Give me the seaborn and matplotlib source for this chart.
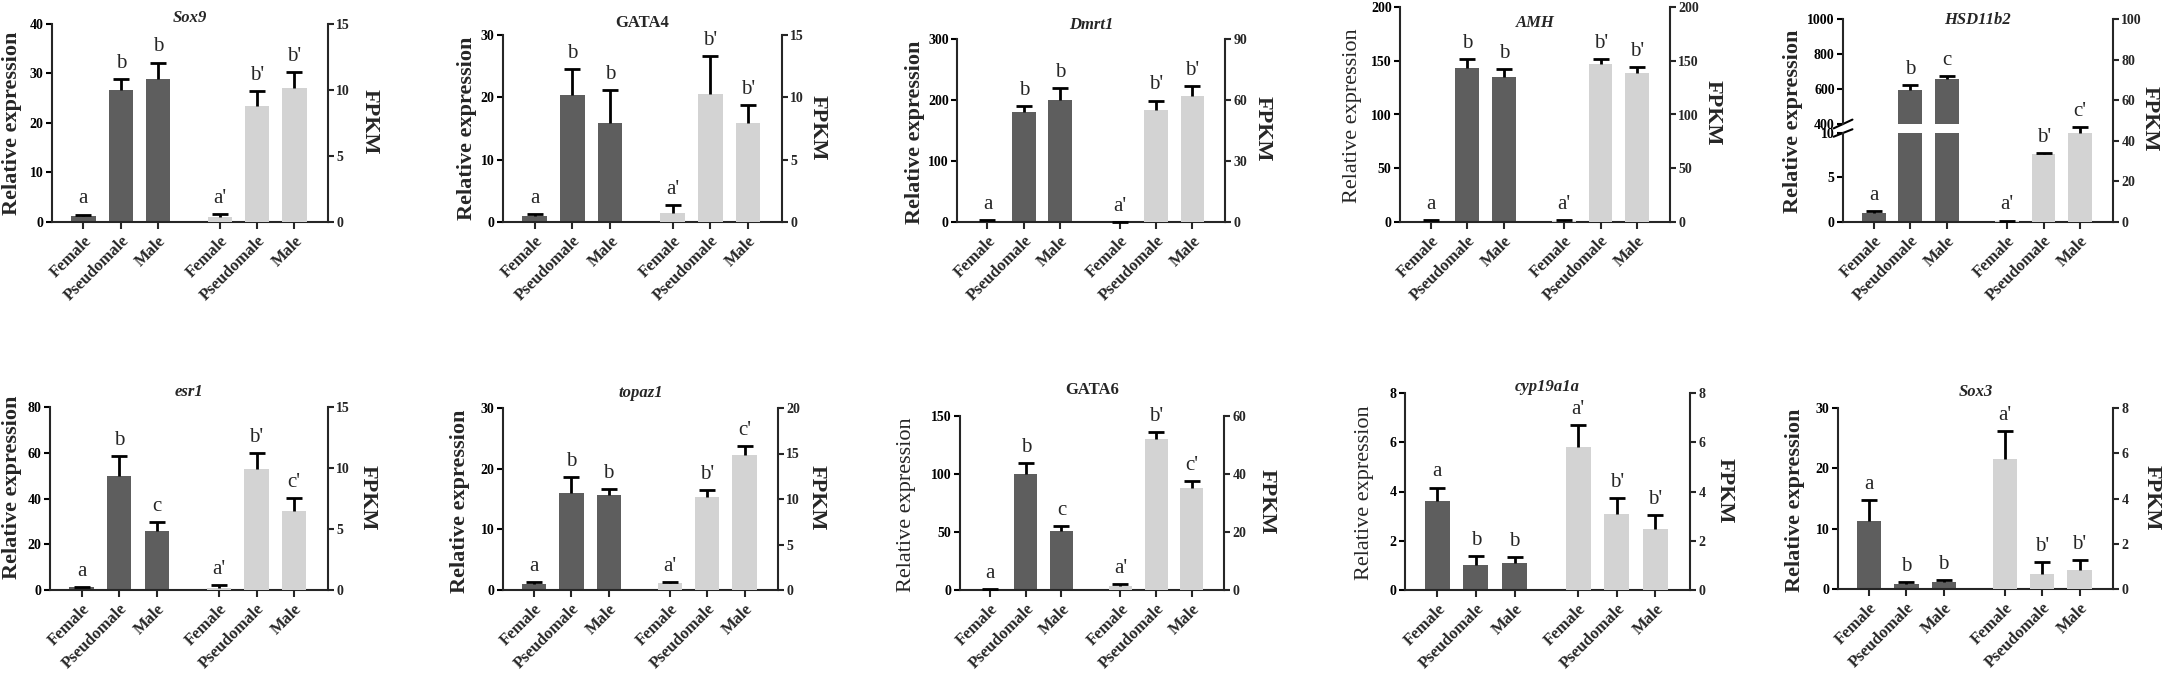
import numpy as np
import pandas as pd
import matplotlib
matplotlib.use("Agg")
import matplotlib.pyplot as plt
import seaborn as sns

# ---------------- data ----------------
groups = ["Female", "Pseudomale", "Male"]
genes = ["Sox9", "GATA4", "Dmrt1", "AMH", "HSD11b2",
         "esr1", "topaz1", "GATA6", "cyp19a1a", "Sox3"]

sox9_rel = [1.15, 26.7, 28.9]
sox9_rel_err = [0.35, 2.2, 3.3]
sox9_fpkm = [0.35, 8.8, 10.15]
sox9_fpkm_err = [0.28, 1.1, 1.18]

gata4_rel = [0.96, 20.35, 15.9]
gata4_rel_err = [0.33, 4.15, 5.3]
gata4_fpkm = [0.72, 10.3, 7.95]
gata4_fpkm_err = [0.62, 3.0, 1.45]

dmrt1_rel = [2.2, 181, 200]
dmrt1_rel_err = [0.5, 9, 20]
dmrt1_fpkm = [0.1, 55, 62]
dmrt1_fpkm_err = [0.0, 4.7, 4.8]

amh_rel = [1.2, 143.4, 135]
amh_rel_err = [0.4, 8.1, 7.5]
amh_fpkm = [1.2, 146.8, 138.7]
amh_fpkm_err = [0.7, 4.7, 5.3]

hsd_rel = [1.05, 594, 657]
hsd_rel_err = [0.19, 31, 19]
hsd_fpkm = [0.5, 33.4, 43.9]
hsd_fpkm_err = [0.2, 0.7, 3.0]

esr1_rel = [1.16, 50.0, 25.9]
esr1_rel_err = [0.3, 8.6, 3.8]
esr1_fpkm = [0.19, 9.95, 6.46]
esr1_fpkm_err = [0.25, 1.25, 1.1]

topaz1_rel = [0.99, 16.07, 15.63]
topaz1_rel_err = [0.28, 2.48, 1.0]
topaz1_fpkm = [0.73, 10.2, 14.83]
topaz1_fpkm_err = [0.19, 0.74, 0.95]

gata6_rel = [0.86, 100, 50.6]
gata6_rel_err = [0.3, 9.2, 4.9]
gata6_fpkm = [1.5, 52, 35.1]
gata6_fpkm_err = [0.45, 2.6, 2.5]

cyp_rel = [3.61, 1.02, 1.11]
cyp_rel_err = [0.55, 0.36, 0.21]
cyp_fpkm = [5.8, 3.09, 2.47]
cyp_fpkm_err = [0.9, 0.63, 0.57]

sox3_rel = [11.33, 0.88, 1.1]
sox3_rel_err = [3.47, 0.34, 0.45]
sox3_fpkm = [5.74, 0.68, 0.82]
sox3_fpkm_err = [1.23, 0.5, 0.46]

letters_rel = {
    "Sox9": ["a", "b", "b"], "GATA4": ["a", "b", "b"], "Dmrt1": ["a", "b", "b"],
    "AMH": ["a", "b", "b"], "HSD11b2": ["a", "b", "c"], "esr1": ["a", "b", "c"],
    "topaz1": ["a", "b", "b"], "GATA6": ["a", "b", "c"], "cyp19a1a": ["a", "b", "b"],
    "Sox3": ["a", "b", "b"],
}
letters_fpkm = {
    "Sox9": ["a'", "b'", "b'"], "GATA4": ["a'", "b'", "b'"], "Dmrt1": ["a'", "b'", "b'"],
    "AMH": ["a'", "b'", "b'"], "HSD11b2": ["a'", "b'", "c'"], "esr1": ["a'", "b'", "c'"],
    "topaz1": ["a'", "b'", "c'"], "GATA6": ["a'", "b'", "c'"], "cyp19a1a": ["a'", "b'", "b'"],
    "Sox3": ["a'", "b'", "b'"],
}
left_ticks = {
    "Sox9": [0, 10, 20, 30, 40], "GATA4": [0, 10, 20, 30], "Dmrt1": [0, 100, 200, 300],
    "AMH": [0, 50, 100, 150, 200], "esr1": [0, 20, 40, 60, 80], "topaz1": [0, 10, 20, 30],
    "GATA6": [0, 50, 100, 150], "cyp19a1a": [0, 2, 4, 6, 8], "Sox3": [0, 10, 20, 30],
}
hsd_low_ticks = [0, 5, 10]
hsd_up_ticks = [400, 600, 800, 1000]
right_ticks = {
    "Sox9": [0, 5, 10, 15], "GATA4": [0, 5, 10, 15], "Dmrt1": [0, 30, 60, 90],
    "AMH": [0, 50, 100, 150, 200], "HSD11b2": [0, 20, 40, 60, 80, 100],
    "esr1": [0, 5, 10, 15], "topaz1": [0, 5, 10, 15, 20], "GATA6": [0, 20, 40, 60],
    "cyp19a1a": [0, 2, 4, 6, 8], "Sox3": [0, 2, 4, 6, 8],
}

data = {
    "Sox9": (sox9_rel, sox9_rel_err, sox9_fpkm, sox9_fpkm_err),
    "GATA4": (gata4_rel, gata4_rel_err, gata4_fpkm, gata4_fpkm_err),
    "Dmrt1": (dmrt1_rel, dmrt1_rel_err, dmrt1_fpkm, dmrt1_fpkm_err),
    "AMH": (amh_rel, amh_rel_err, amh_fpkm, amh_fpkm_err),
    "HSD11b2": (hsd_rel, hsd_rel_err, hsd_fpkm, hsd_fpkm_err),
    "esr1": (esr1_rel, esr1_rel_err, esr1_fpkm, esr1_fpkm_err),
    "topaz1": (topaz1_rel, topaz1_rel_err, topaz1_fpkm, topaz1_fpkm_err),
    "GATA6": (gata6_rel, gata6_rel_err, gata6_fpkm, gata6_fpkm_err),
    "cyp19a1a": (cyp_rel, cyp_rel_err, cyp_fpkm, cyp_fpkm_err),
    "Sox3": (sox3_rel, sox3_rel_err, sox3_fpkm, sox3_fpkm_err),
}

# ---------------- layout / style ----------------
W, H = 2164, 679
DARK = "#5e5e5e"
LIGHT = "#d3d3d3"

# axes rect in pixels: left, top, right, bottom
rects = {
    "Sox9": (52, 24, 328, 222), "GATA4": (503, 35, 782, 222),
    "Dmrt1": (957, 39, 1225, 222), "AMH": (1400, 7, 1670, 222),
    "HSD11b2": (1843, 19, 2113, 222),
    "esr1": (50, 407, 328, 590), "topaz1": (503, 408, 778, 590),
    "GATA6": (960, 416, 1224, 590), "cyp19a1a": (1405, 393, 1690, 590),
    "Sox3": (1838, 408, 2113, 589),
}
title_y = {"Sox9": 18, "GATA4": 23, "Dmrt1": 25, "AMH": 23, "HSD11b2": 20,
           "esr1": 392, "topaz1": 393, "GATA6": 390, "cyp19a1a": 387, "Sox3": 392}
italic = {"GATA4": False, "GATA6": False}
ylab_pos = {"Sox9": (12, 123), "GATA4": (467, 128), "Dmrt1": (915, 132),
            "AMH": (1353, 116), "HSD11b2": (1793, 121), "esr1": (12, 487),
            "topaz1": (460, 501), "GATA6": (907, 505), "cyp19a1a": (1365, 493),
            "Sox3": (1795, 500)}
ylab_bold = {"AMH": False, "GATA6": False, "cyp19a1a": False}
fpkm_pos = {"Sox9": (370, 122), "GATA4": (818, 128), "Dmrt1": (1263, 129),
            "AMH": (1713, 113), "HSD11b2": (2150, 119), "esr1": (368, 498),
            "topaz1": (817, 498), "GATA6": (1267, 502), "cyp19a1a": (1725, 491),
            "Sox3": (2152, 498)}

sns.set_theme(style="ticks")
plt.rcParams["font.family"] = ["Liberation Serif", "DejaVu Serif"]
plt.rcParams["font.weight"] = "bold"
plt.rcParams["axes.linewidth"] = 1.5

GAP = 3.65
pos_dark = np.arange(len(groups), dtype=float)
pos_light = pos_dark + GAP
XLIM = (-0.84, pos_light[-1] + 0.9)

fig = plt.figure(figsize=(W / 100, H / 100), dpi=100)


def frect(l, t, r, b):
    return [l / W, 1 - b / H, (r - l) / W, (b - t) / H]


def draw_bars(ax, pos, vals, color):
    df = pd.DataFrame({"pos": pos, "val": vals})
    sns.barplot(data=df, x="pos", y="val", native_scale=True, orient="x",
                width=0.65, color=color, saturation=1, errorbar=None,
                linewidth=0, ax=ax)
    ax.set_xlabel("")
    ax.set_ylabel("")


def draw_err(ax, pos, vals, err, letters=None):
    vals = np.asarray(vals, float)
    err = np.asarray(err, float)
    eb = ax.errorbar(pos, vals, yerr=[np.zeros_like(err), err], fmt="none",
                     ecolor="black", elinewidth=2, capsize=5.5, capthick=2,
                     zorder=3, clip_on=False)
    eb[1][0].set_visible(False)
    if letters is not None:
        for p, v, e, l in zip(pos, vals, err, letters):
            ax.annotate(l, (p, v + e), xytext=(0, 8), textcoords="offset points",
                        ha="center", va="baseline", fontsize=15,
                        fontweight="normal", annotation_clip=False)


def style_left(ax, ticks, bottom=True):
    ax.spines["top"].set_visible(False)
    ax.spines["right"].set_visible(False)
    ax.set_yticks(ticks)
    ax.tick_params(axis="y", direction="out", length=4, width=1.5,
                   labelsize=10, pad=2, colors="black")
    if bottom:
        ax.set_xticks(np.concatenate([pos_dark, pos_light]))
        ax.set_xticklabels(groups * 2, rotation=45, ha="right",
                           rotation_mode="anchor", fontsize=12,
                           fontweight="bold")
        ax.tick_params(axis="x", direction="out", length=5, width=1.5, pad=3)
    ax.set_xlim(*XLIM)
    ax.set_facecolor("none")


def style_right(ax2, ticks):
    for s in ["top", "left", "bottom"]:
        ax2.spines[s].set_visible(False)
    ax2.spines["right"].set_visible(True)
    ax2.yaxis.tick_right()
    ax2.set_yticks(ticks)
    ax2.set_ylim(ticks[0], ticks[-1])
    ax2.tick_params(axis="y", direction="out", length=4, width=1.5,
                    labelsize=10, pad=2)
    ax2.set_xlim(*XLIM)
    ax2.set_facecolor("none")


def labels(g):
    l, t, r, b = rects[g]
    fig.text(((l + r) / 2) / W, 1 - title_y[g] / H, g, ha="center", va="center",
             fontsize=12, fontweight="bold",
             fontstyle="italic" if italic.get(g, True) else "normal")
    x, y = ylab_pos[g]
    fig.text(x / W, 1 - y / H, "Relative expression", rotation=90,
             ha="center", va="center", fontsize=16,
             fontweight="bold" if ylab_bold.get(g, True) else "normal")
    x, y = fpkm_pos[g]
    fig.text(x / W, 1 - y / H, "FPKM", rotation=270, ha="center", va="center",
             fontsize=16, fontweight="bold")


for g in genes:
    rel, rel_err, fpkm, fpkm_err = data[g]
    l, t, r, b = rects[g]
    if g != "HSD11b2":
        ax = fig.add_axes(frect(l, t, r, b))
        draw_bars(ax, pos_dark, rel, DARK)
        ax2 = ax.twinx()
        draw_bars(ax2, pos_light, fpkm, LIGHT)
        draw_err(ax, pos_dark, rel, rel_err, letters_rel[g])
        draw_err(ax2, pos_light, fpkm, fpkm_err, letters_fpkm[g])
        lt = left_ticks[g]
        ax.set_ylim(lt[0], lt[-1])
        style_left(ax, lt)
        style_right(ax2, right_ticks[g])
    else:
        brk_low, brk_up = 133, 124
        ax_lo = fig.add_axes(frect(l, brk_low, r, b))
        ax_up = fig.add_axes(frect(l, t, r, brk_up))
        ax2 = fig.add_axes(frect(l, t, r, b))
        draw_bars(ax_lo, pos_dark, rel, DARK)
        draw_bars(ax_up, pos_dark, rel, DARK)
        draw_bars(ax2, pos_light, fpkm, LIGHT)
        ax_lo.set_ylim(hsd_low_ticks[0], hsd_low_ticks[-1])
        ax_up.set_ylim(hsd_up_ticks[0], hsd_up_ticks[-1])
        # error bars & letters: each bar in the segment holding its top
        rel_a = np.asarray(rel)
        err_a = np.asarray(rel_err)
        in_low = rel_a <= hsd_low_ticks[-1]
        lr = letters_rel[g]
        draw_err(ax_lo, pos_dark[in_low], rel_a[in_low], err_a[in_low],
                 [lr[i] for i in range(3) if in_low[i]])
        draw_err(ax_up, pos_dark[~in_low], rel_a[~in_low], err_a[~in_low],
                 [lr[i] for i in range(3) if not in_low[i]])
        draw_err(ax2, pos_light, fpkm, fpkm_err, letters_fpkm[g])
        style_left(ax_lo, hsd_low_ticks)
        style_left(ax_up, hsd_up_ticks, bottom=False)
        ax_up.spines["bottom"].set_visible(False)
        ax_up.tick_params(axis="x", bottom=False, labelbottom=False)
        style_right(ax2, right_ticks[g])
        ax2.tick_params(axis="x", bottom=False, labelbottom=False)
        ax2.patch.set_visible(False)
        # break marks on the left spine
        d = 0.035
        ax_up.plot([-d, d], [-d * 1.2, d * 1.2], transform=ax_up.transAxes,
                   color="black", lw=1.5, clip_on=False)
        ax_lo.plot([-d, d], [1 - d * 1.2, 1 + d * 1.2], transform=ax_lo.transAxes,
                   color="black", lw=1.5, clip_on=False)
    labels(g)

fig.savefig("out.png", dpi=100, facecolor="white")
